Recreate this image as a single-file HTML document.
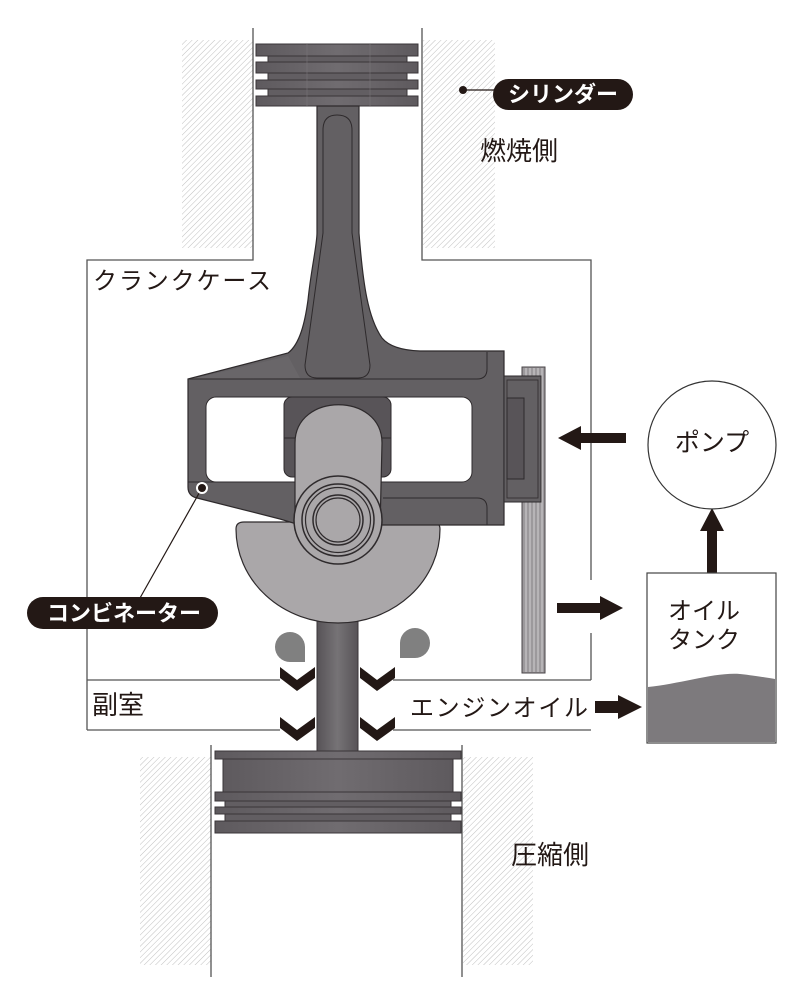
<!DOCTYPE html>
<html><head><meta charset="utf-8"><style>
html,body{margin:0;padding:0;background:#fff;}
svg{display:block;}
text{font-family:"Liberation Sans","Noto Sans CJK JP",sans-serif;}
</style></head><body>
<svg width="800" height="997" viewBox="0 0 800 997" xmlns="http://www.w3.org/2000/svg">
<defs>
<pattern id="h" width="4" height="4" patternUnits="userSpaceOnUse" patternTransform="rotate(45)">
<line x1="0" y1="0" x2="0" y2="4" stroke="#b0b0b0" stroke-width="0.8"/>
</pattern>
<linearGradient id="pg" x1="0" x2="1" y1="0" y2="0">
<stop offset="0" stop-color="#5e5a5e"/><stop offset="0.5" stop-color="#706c70"/><stop offset="1" stop-color="#5e5a5e"/>
</linearGradient>
<linearGradient id="rg" x1="0" x2="1" y1="0" y2="0">
<stop offset="0" stop-color="#575357"/><stop offset="0.5" stop-color="#767376"/><stop offset="1" stop-color="#575357"/>
</linearGradient>
</defs>

<!-- hatches -->
<rect x="182" y="40" width="71" height="208" fill="url(#h)"/>
<rect x="423" y="40" width="72" height="208" fill="url(#h)"/>
<rect x="140" y="757" width="71" height="208" fill="url(#h)"/>
<rect x="463" y="757" width="70" height="208" fill="url(#h)"/>

<!-- walls / crankcase -->
<g fill="none" stroke="#555" stroke-width="1.3">
<path d="M253,28 L253,260 L87,260 L87,730"/>
<path d="M422,28 L422,260 L591,260 L591,580"/>
<path d="M591,633 L591,680"/>
<path d="M87,680 L280,680 M393,680 L591,680"/>
<path d="M87,730 L280,730 M393,730 L591,730"/>
<path d="M211,745 L211,977 M462,745 L462,977"/>
</g>

<!-- top piston -->
<g stroke="#3a3538" stroke-width="1">
<rect x="268" y="55" width="139" height="44" fill="#625e62"/>
<rect x="256" y="44" width="162" height="12" fill="url(#pg)"/>
<rect x="256" y="62" width="162" height="11" fill="url(#pg)"/>
<rect x="256" y="80" width="162" height="9" fill="url(#pg)"/>
<rect x="256" y="96" width="162" height="10" fill="url(#pg)"/>
</g>
<g stroke="#7a767a" stroke-width="0.6"><line x1="307" y1="44" x2="307" y2="106"/><line x1="370" y1="44" x2="370" y2="106"/></g>

<!-- lower rod -->
<rect x="317" y="600" width="41" height="152" fill="url(#rg)" stroke="#3a3538" stroke-width="1"/>

<!-- counterweight disc -->
<path d="M236,529 Q236,522 244,522 L432,522 Q440,522 440,529 A102,94 0 0 1 236,529 Z" fill="#aaa7a9" stroke="#2e2a2c" stroke-width="1.2"/>

<!-- combiner body with rod -->
<path d="M317,106 L359,106 L359,233 C363,285 368,318 382,338 Q392,350 420,351 L504,351 L504,525 L300,525 L280,519 L197,498 Q188,496 188,487 L188,379 L288,353 C300,344 305,322 308,300 C311,270 317,245 317,233 Z" fill="#636063" stroke="#2e2a2c" stroke-width="1.2"/>
<path d="M205,376 L288,356 L300,378 L188,379 Z" fill="#6e6a6e" opacity="0.6"/>
<g fill="none" stroke="#2e2a2c" stroke-width="1">
<path d="M323,130 Q323,115 337,115 Q352,115 352,130 L352,233 L370,365 Q370,378 358,378 L317,378 Q305,378 305,365 L323,233 Z"/>
<path d="M188,379 L477,379 Q487,379 487,369 L487,352"/>
<path d="M383,498 L477,498 Q487,498 487,508 L487,525"/>
<path d="M188,482 L290,482"/>
</g>
<!-- window -->
<rect x="206" y="397" width="266" height="85" rx="10" fill="#fff" stroke="#2e2a2c" stroke-width="1"/>
<!-- slider block -->
<rect x="284" y="397" width="107" height="80" rx="8" fill="#585458" stroke="#2e2a2c" stroke-width="1"/>
<line x1="284" y1="438" x2="391" y2="438" stroke="#2e2a2c" stroke-width="1"/>
<!-- light rod -->
<path d="M295,530 L295,443 C295,392 382,392 382,443 L380,530 Z" fill="#aaa7a9" stroke="#2e2a2c" stroke-width="1.2"/>
<!-- eye -->
<circle cx="338" cy="520" r="44" fill="#aaa7a9" stroke="#2e2a2c" stroke-width="1.5"/>
<circle cx="338" cy="520" r="36" fill="none" stroke="#2e2a2c" stroke-width="1.5"/>
<circle cx="338" cy="520" r="32.5" fill="none" stroke="#2e2a2c" stroke-width="1.2"/>
<circle cx="338" cy="520" r="25" fill="none" stroke="#2e2a2c" stroke-width="1.5"/>
<circle cx="338" cy="520" r="22" fill="none" stroke="#2e2a2c" stroke-width="1.2"/>

<!-- right plate -->
<rect x="522" y="367" width="23" height="306" fill="#9c999c" stroke="#4a4548" stroke-width="1"/>
<g stroke="#d8d6d8" stroke-width="0.9"><line x1="526" y1="368" x2="526" y2="672"/><line x1="530" y1="368" x2="530" y2="672"/><line x1="534" y1="368" x2="534" y2="672"/><line x1="538" y1="368" x2="538" y2="672"/><line x1="542" y1="368" x2="542" y2="672"/></g>
<rect x="504" y="376" width="37" height="126" fill="#636063" stroke="#2e2a2c" stroke-width="1"/>
<rect x="507" y="380" width="31" height="118" fill="none" stroke="#2e2a2c" stroke-width="0.8"/>
<rect x="507" y="398" width="17" height="81" fill="#585458" stroke="#2e2a2c" stroke-width="1"/>

<!-- combiner dot + leader -->
<line x1="202" y1="488" x2="140" y2="598" stroke="#231815" stroke-width="1.2"/>
<circle cx="202" cy="488" r="5" fill="#231815" stroke="#fff" stroke-width="2"/>

<!-- drops -->
<path d="M290,662 A15,15 0 1 1 305,647 L305,662 Z" fill="#808080"/>
<path d="M400,643 A15,15 0 1 1 415,658 L400,658 Z" fill="#808080"/>

<!-- chevrons -->
<g fill="#231815">
<polygon points="280,667 297,680 315,667 315,678 297,691 280,678"/>
<polygon points="360,667 377,680 395,667 395,678 377,691 360,678"/>
<polygon points="280,717 297,730 315,717 315,728 297,741 280,728"/>
<polygon points="360,717 377,730 395,717 395,728 377,741 360,728"/>
</g>

<!-- bottom piston -->
<g stroke="#3a3538" stroke-width="1">
<rect x="225" y="800" width="226" height="22" fill="#625e62"/>
<rect x="223" y="759" width="230" height="33" fill="url(#pg)"/>
<rect x="215" y="751" width="246" height="8" fill="url(#pg)"/>
<rect x="215" y="792" width="246" height="9" fill="url(#pg)"/>
<rect x="215" y="807" width="246" height="7" fill="url(#pg)"/>
<rect x="215" y="821" width="246" height="12" fill="url(#pg)"/>
</g>

<!-- arrows -->
<g fill="#231815">
<polygon points="558,438 581,426 581,433 626,433 626,443 581,443 581,450"/>
<polygon points="623,608 600,596 600,603 557,603 557,613 600,613 600,620"/>
<polygon points="712,508 724,531 717,531 717,573 707,573 707,531 700,531"/>
<polygon points="642,707 618,695 618,701 595,701 595,713 618,713 618,719"/>
</g>

<!-- pump & tank -->
<circle cx="712" cy="445" r="64" fill="#fff" stroke="#333" stroke-width="1.2"/>
<rect x="647" y="573" width="129" height="170" fill="#fff" stroke="#444" stroke-width="1.2"/>
<path d="M648,687 C680,684 715,672 740,674 C758,676 768,678 775,679 L775,742 L648,742 Z" fill="#7d7a7d"/>

<!-- pills -->
<line x1="463" y1="90" x2="494" y2="90" stroke="#231815" stroke-width="1.2"/>
<circle cx="463" cy="90" r="4" fill="#231815"/>
<rect x="493" y="79" width="140" height="31" rx="15.5" fill="#231815"/>
<text x="563" y="102" font-size="22" fill="#fff" text-anchor="middle" font-weight="bold">シリンダー</text>
<rect x="27" y="597" width="191" height="32" rx="16" fill="#231815"/>
<text x="124" y="621" font-size="22" fill="#fff" text-anchor="middle" font-weight="bold">コンビネーター</text>

<!-- labels -->
<g fill="#231815">
<text x="480" y="160" font-size="26">燃焼側</text>
<text x="93" y="289" font-size="24" textLength="178">クランクケース</text>
<text x="92" y="714" font-size="26">副室</text>
<text x="410" y="716" font-size="24" textLength="178">エンジンオイル</text>
<text x="712" y="451" font-size="25" text-anchor="middle">ポンプ</text>
<text x="668" y="619" font-size="24" textLength="72">オイル</text>
<text x="668" y="648" font-size="24" textLength="72">タンク</text>
<text x="511" y="864" font-size="26">圧縮側</text>
</g>
</svg>
</body></html>
